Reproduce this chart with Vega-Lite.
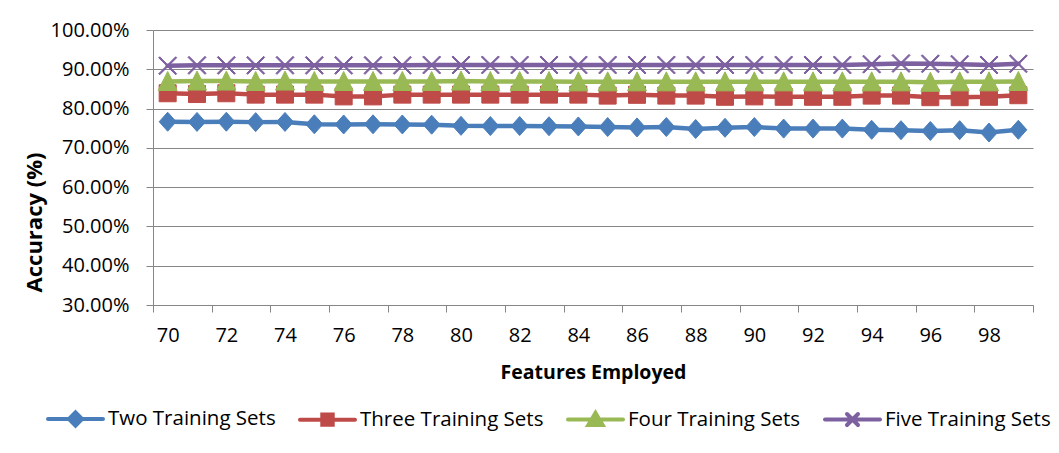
{
  "$schema": "https://vega.github.io/schema/vega-lite/v6.json",
  "width": 880,
  "height": 275,
  "autosize": {"type": "none"},
  "padding": {"left": 153, "top": 30, "right": 26, "bottom": 148},
  "background": "white",
  "config": {
    "font": "Open Sans",
    "view": {"stroke": null},
    "axis": {"labelColor": "black", "titleColor": "black", "domainColor": "#868686", "tickColor": "#868686", "gridColor": "#868686", "labelFontSize": 20, "titleFontSize": 19.5, "titleFontWeight": "bold"}
  },
  "data": {
    "values": [
      {"f": 70, "series": "Two Training Sets", "acc": 0.7665},
      {"f": 71, "series": "Two Training Sets", "acc": 0.766},
      {"f": 72, "series": "Two Training Sets", "acc": 0.7665},
      {"f": 73, "series": "Two Training Sets", "acc": 0.7655},
      {"f": 74, "series": "Two Training Sets", "acc": 0.766},
      {"f": 75, "series": "Two Training Sets", "acc": 0.76},
      {"f": 76, "series": "Two Training Sets", "acc": 0.7595},
      {"f": 77, "series": "Two Training Sets", "acc": 0.76},
      {"f": 78, "series": "Two Training Sets", "acc": 0.7595},
      {"f": 79, "series": "Two Training Sets", "acc": 0.759},
      {"f": 80, "series": "Two Training Sets", "acc": 0.756},
      {"f": 81, "series": "Two Training Sets", "acc": 0.7555},
      {"f": 82, "series": "Two Training Sets", "acc": 0.7555},
      {"f": 83, "series": "Two Training Sets", "acc": 0.755},
      {"f": 84, "series": "Two Training Sets", "acc": 0.7545},
      {"f": 85, "series": "Two Training Sets", "acc": 0.753},
      {"f": 86, "series": "Two Training Sets", "acc": 0.752},
      {"f": 87, "series": "Two Training Sets", "acc": 0.753},
      {"f": 88, "series": "Two Training Sets", "acc": 0.748},
      {"f": 89, "series": "Two Training Sets", "acc": 0.751},
      {"f": 90, "series": "Two Training Sets", "acc": 0.753},
      {"f": 91, "series": "Two Training Sets", "acc": 0.749},
      {"f": 92, "series": "Two Training Sets", "acc": 0.749},
      {"f": 93, "series": "Two Training Sets", "acc": 0.749},
      {"f": 94, "series": "Two Training Sets", "acc": 0.746},
      {"f": 95, "series": "Two Training Sets", "acc": 0.745},
      {"f": 96, "series": "Two Training Sets", "acc": 0.743},
      {"f": 97, "series": "Two Training Sets", "acc": 0.745},
      {"f": 98, "series": "Two Training Sets", "acc": 0.739},
      {"f": 99, "series": "Two Training Sets", "acc": 0.746},
      {"f": 70, "series": "Three Training Sets", "acc": 0.839},
      {"f": 71, "series": "Three Training Sets", "acc": 0.837},
      {"f": 72, "series": "Three Training Sets", "acc": 0.839},
      {"f": 73, "series": "Three Training Sets", "acc": 0.8355},
      {"f": 74, "series": "Three Training Sets", "acc": 0.8355},
      {"f": 75, "series": "Three Training Sets", "acc": 0.8355},
      {"f": 76, "series": "Three Training Sets", "acc": 0.831},
      {"f": 77, "series": "Three Training Sets", "acc": 0.831},
      {"f": 78, "series": "Three Training Sets", "acc": 0.8355},
      {"f": 79, "series": "Three Training Sets", "acc": 0.8355},
      {"f": 80, "series": "Three Training Sets", "acc": 0.8355},
      {"f": 81, "series": "Three Training Sets", "acc": 0.8355},
      {"f": 82, "series": "Three Training Sets", "acc": 0.8355},
      {"f": 83, "series": "Three Training Sets", "acc": 0.8355},
      {"f": 84, "series": "Three Training Sets", "acc": 0.8355},
      {"f": 85, "series": "Three Training Sets", "acc": 0.833},
      {"f": 86, "series": "Three Training Sets", "acc": 0.835},
      {"f": 87, "series": "Three Training Sets", "acc": 0.833},
      {"f": 88, "series": "Three Training Sets", "acc": 0.833},
      {"f": 89, "series": "Three Training Sets", "acc": 0.83},
      {"f": 90, "series": "Three Training Sets", "acc": 0.831},
      {"f": 91, "series": "Three Training Sets", "acc": 0.83},
      {"f": 92, "series": "Three Training Sets", "acc": 0.83},
      {"f": 93, "series": "Three Training Sets", "acc": 0.83},
      {"f": 94, "series": "Three Training Sets", "acc": 0.833},
      {"f": 95, "series": "Three Training Sets", "acc": 0.833},
      {"f": 96, "series": "Three Training Sets", "acc": 0.829},
      {"f": 97, "series": "Three Training Sets", "acc": 0.829},
      {"f": 98, "series": "Three Training Sets", "acc": 0.83},
      {"f": 99, "series": "Three Training Sets", "acc": 0.834},
      {"f": 70, "series": "Four Training Sets", "acc": 0.869},
      {"f": 71, "series": "Four Training Sets", "acc": 0.87},
      {"f": 72, "series": "Four Training Sets", "acc": 0.87},
      {"f": 73, "series": "Four Training Sets", "acc": 0.869},
      {"f": 74, "series": "Four Training Sets", "acc": 0.87},
      {"f": 75, "series": "Four Training Sets", "acc": 0.869},
      {"f": 76, "series": "Four Training Sets", "acc": 0.869},
      {"f": 77, "series": "Four Training Sets", "acc": 0.869},
      {"f": 78, "series": "Four Training Sets", "acc": 0.869},
      {"f": 79, "series": "Four Training Sets", "acc": 0.869},
      {"f": 80, "series": "Four Training Sets", "acc": 0.87},
      {"f": 81, "series": "Four Training Sets", "acc": 0.869},
      {"f": 82, "series": "Four Training Sets", "acc": 0.869},
      {"f": 83, "series": "Four Training Sets", "acc": 0.869},
      {"f": 84, "series": "Four Training Sets", "acc": 0.868},
      {"f": 85, "series": "Four Training Sets", "acc": 0.868},
      {"f": 86, "series": "Four Training Sets", "acc": 0.868},
      {"f": 87, "series": "Four Training Sets", "acc": 0.868},
      {"f": 88, "series": "Four Training Sets", "acc": 0.868},
      {"f": 89, "series": "Four Training Sets", "acc": 0.868},
      {"f": 90, "series": "Four Training Sets", "acc": 0.868},
      {"f": 91, "series": "Four Training Sets", "acc": 0.868},
      {"f": 92, "series": "Four Training Sets", "acc": 0.868},
      {"f": 93, "series": "Four Training Sets", "acc": 0.868},
      {"f": 94, "series": "Four Training Sets", "acc": 0.868},
      {"f": 95, "series": "Four Training Sets", "acc": 0.868},
      {"f": 96, "series": "Four Training Sets", "acc": 0.867},
      {"f": 97, "series": "Four Training Sets", "acc": 0.868},
      {"f": 98, "series": "Four Training Sets", "acc": 0.868},
      {"f": 99, "series": "Four Training Sets", "acc": 0.869},
      {"f": 70, "series": "Five Training Sets", "acc": 0.909},
      {"f": 71, "series": "Five Training Sets", "acc": 0.91},
      {"f": 72, "series": "Five Training Sets", "acc": 0.91},
      {"f": 73, "series": "Five Training Sets", "acc": 0.91},
      {"f": 74, "series": "Five Training Sets", "acc": 0.91},
      {"f": 75, "series": "Five Training Sets", "acc": 0.91},
      {"f": 76, "series": "Five Training Sets", "acc": 0.91},
      {"f": 77, "series": "Five Training Sets", "acc": 0.91},
      {"f": 78, "series": "Five Training Sets", "acc": 0.91},
      {"f": 79, "series": "Five Training Sets", "acc": 0.911},
      {"f": 80, "series": "Five Training Sets", "acc": 0.911},
      {"f": 81, "series": "Five Training Sets", "acc": 0.911},
      {"f": 82, "series": "Five Training Sets", "acc": 0.911},
      {"f": 83, "series": "Five Training Sets", "acc": 0.911},
      {"f": 84, "series": "Five Training Sets", "acc": 0.911},
      {"f": 85, "series": "Five Training Sets", "acc": 0.911},
      {"f": 86, "series": "Five Training Sets", "acc": 0.911},
      {"f": 87, "series": "Five Training Sets", "acc": 0.911},
      {"f": 88, "series": "Five Training Sets", "acc": 0.911},
      {"f": 89, "series": "Five Training Sets", "acc": 0.911},
      {"f": 90, "series": "Five Training Sets", "acc": 0.911},
      {"f": 91, "series": "Five Training Sets", "acc": 0.911},
      {"f": 92, "series": "Five Training Sets", "acc": 0.911},
      {"f": 93, "series": "Five Training Sets", "acc": 0.911},
      {"f": 94, "series": "Five Training Sets", "acc": 0.913},
      {"f": 95, "series": "Five Training Sets", "acc": 0.915},
      {"f": 96, "series": "Five Training Sets", "acc": 0.914},
      {"f": 97, "series": "Five Training Sets", "acc": 0.913},
      {"f": 98, "series": "Five Training Sets", "acc": 0.911},
      {"f": 99, "series": "Five Training Sets", "acc": 0.914}
    ]
  },
  "encoding": {
    "x": {
      "field": "f",
      "type": "quantitative",
      "scale": {"domain": [69.5, 99.5], "nice": false, "zero": false},
      "axis": {
        "title": "Features Employed",
        "values": [69.5, 70, 71.5, 72, 73.5, 74, 75.5, 76, 77.5, 78, 79.5, 80, 81.5, 82, 83.5, 84, 85.5, 86, 87.5, 88, 89.5, 90, 91.5, 92, 93.5, 94, 95.5, 96, 97.5, 98, 99.5],
        "labelExpr": "datum.value % 2 == 0 ? datum.label : ''",
        "tickOpacity": {"condition": {"test": "datum.value % 2 != 0", "value": 1}, "value": 0},
        "tickSize": 7,
        "labelPadding": 13,
        "labelOverlap": false,
        "labelFlush": false,
        "grid": false,
        "titleX": 440,
        "titleY": 73,
        "titleAlign": "center",
        "titleBaseline": "alphabetic"
      }
    },
    "y": {
      "field": "acc",
      "type": "quantitative",
      "scale": {"domain": [0.3, 1.0], "nice": false, "zero": false},
      "axis": {
        "title": "Accuracy (%)",
        "values": [0.3, 0.4, 0.5, 0.6, 0.7, 0.8, 0.9, 1.0],
        "format": ".2%",
        "grid": true,
        "gridWidth": 1,
        "tickSize": 7,
        "labelPadding": 17,
        "titleFontSize": 22,
        "titleAngle": -90,
        "titleX": -119,
        "titleY": 192,
        "titleAlign": "center",
        "titleBaseline": "middle"
      }
    }
  },
  "layer": [
    {
      "mark": {"type": "line", "strokeWidth": 4.5, "strokeJoin": "round", "strokeCap": "round"},
      "encoding": {
        "color": {
          "field": "series",
          "type": "nominal",
          "scale": {
            "domain": ["Two Training Sets", "Three Training Sets", "Four Training Sets", "Five Training Sets"],
            "range": ["#4A7EBB", "#BE4B48", "#98B954", "#7D60A0"]
          },
          "legend": {
            "orient": "none",
            "legendX": -107,
            "legendY": 359,
            "direction": "horizontal",
            "columns": 4,
            "title": null,
            "labelFontSize": 20.5,
            "labelColor": "black",
            "labelLimit": 400,
            "labelOffset": 3,
            "columnPadding": 16,
            "symbolSize": 3025,
            "symbolStrokeWidth": 4,
            "symbolType": "M-1,0H1",
            "encode": {
              "symbols": {
                "update": {
                  "shape": {"signal": "datum.value === 'Two Training Sets' ? 'M-1,0H1M0,-0.24L0.24,0L0,0.24L-0.24,0Z' : datum.value === 'Three Training Sets' ? 'M-1,0H1M-0.19,-0.19H0.19V0.19H-0.19Z' : datum.value === 'Four Training Sets' ? 'M-1,0H1M0,-0.24L0.26,0.2H-0.26Z' : 'M-1,0H1M-0.2,-0.2L0.2,0.2M-0.2,0.2L0.2,-0.2'"},
                  "fill": {"signal": "scale('color', datum.value)"},
                  "stroke": {"signal": "scale('color', datum.value)"},
                  "strokeCap": {"value": "round"},
                  "opacity": {"value": 1}
                }
              }
            }
          }
        }
      }
    },
    {
      "transform": [{"filter": "datum.series === 'Two Training Sets'"}],
      "mark": {"type": "point", "filled": true, "opacity": 1, "size": 400, "strokeWidth": 1, "fill": "#4A7EBB", "stroke": "#4A7EBB", "shape": "M0,-0.95L0.85,0L0,0.95L-0.85,0Z"}
    },
    {
      "transform": [{"filter": "datum.series === 'Three Training Sets'"}],
      "mark": {"type": "point", "filled": true, "opacity": 1, "size": 400, "strokeWidth": 1, "fill": "#BE4B48", "stroke": "#BE4B48", "shape": "M-0.85,-0.85H0.85V0.85H-0.85Z"}
    },
    {
      "transform": [{"filter": "datum.series === 'Four Training Sets'"}],
      "mark": {"type": "point", "filled": true, "opacity": 1, "size": 400, "strokeWidth": 1, "fill": "#98B954", "stroke": "#98B954", "shape": "M0,-1L0.95,0.9H-0.95Z"}
    },
    {
      "transform": [{"filter": "datum.series === 'Five Training Sets'"}],
      "mark": {"type": "point", "filled": true, "opacity": 1, "size": 400, "strokeWidth": 1, "fill": "#7D60A0", "stroke": "#7D60A0", "shape": "M-0.8,-0.9L0.9,0.8L0.8,0.9L-0.9,-0.8ZM-0.8,0.9L0.9,-0.8L0.8,-0.9L-0.9,0.8Z"}
    }
  ]
}
